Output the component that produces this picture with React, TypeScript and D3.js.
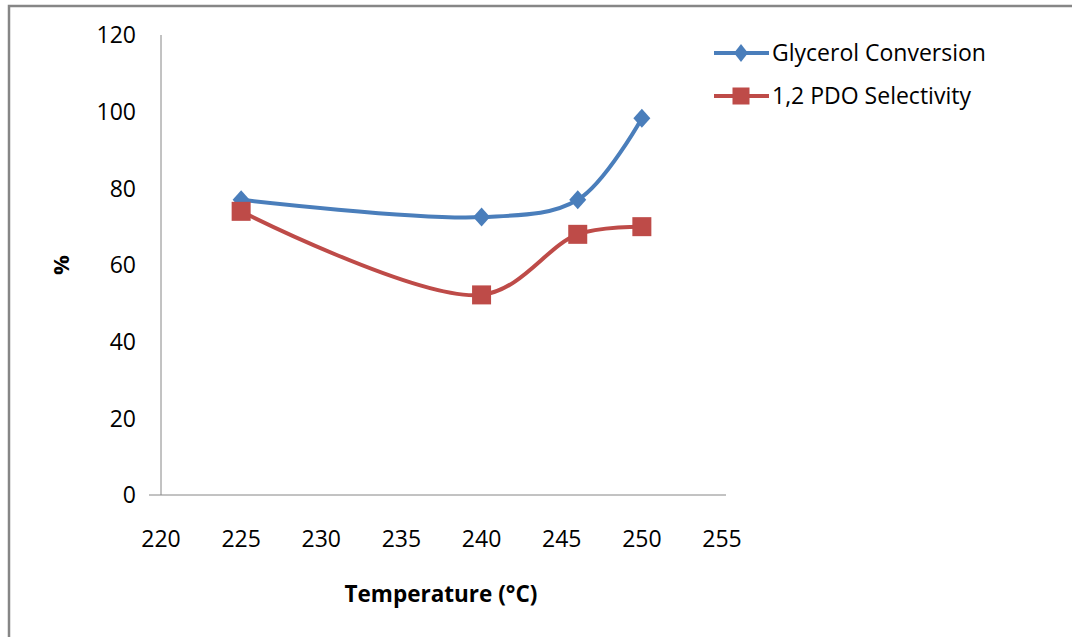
import React from "react";
import * as d3 from "d3";

const temperatures = [225, 240, 246, 250];
const glycerolConversion = [77, 72.5, 77, 98.3];
const pdoSelectivity = [74, 52.2, 68, 70];
const xTicks = [220, 225, 230, 235, 240, 245, 250, 255];
const yTicks = [0, 20, 40, 60, 80, 100, 120];
const seriesNames = ["Glycerol Conversion", "1,2 PDO Selectivity"];

const W = 1072, H = 637;
const BLUE = "#4A7EBB", RED = "#BE4B48";
const FONT = "'Open Sans', Lato, sans-serif";

export default function App() {
  const x = d3.scaleLinear().domain([220, 255]).range([161, 722]);
  const y = d3.scaleLinear().domain([0, 120]).range([495, 35]);
  const line = d3
    .line<[number, number]>()
    .x((d) => x(d[0]))
    .y((d) => y(d[1]))
    .curve(d3.curveCatmullRom.alpha(0.5));
  const g = temperatures.map((t, i) => [t, glycerolConversion[i]] as [number, number]);
  const r = temperatures.map((t, i) => [t, pdoSelectivity[i]] as [number, number]);
  const diamond = (cx: number, cy: number, sw = 8.5, sh = 9.5) =>
    `M${cx},${cy - sh}L${cx + sw},${cy}L${cx},${cy + sh}L${cx - sw},${cy}Z`;
  const sq = 9.5;
  return (
    <svg width={W} height={H} style={{ position: "absolute", left: 0, top: 0, background: "#fff" }}>
      <rect x={9} y={6} width={W + 20} height={H + 20} fill="#fff" stroke="#868686" strokeWidth={2.5} />
      {/* axes */}
      <line x1={x(220)} x2={x(220)} y1={y(120)} y2={y(0)} stroke="#868686" strokeWidth={1} />
      <line x1={x(220) - 12} x2={x(255) + 4} y1={y(0)} y2={y(0)} stroke="#868686" strokeWidth={1} />
      {yTicks.map((t) => (
        <text key={t} x={136} y={y(t)} dy="0.36em" textAnchor="end" fontFamily={FONT} fontSize={23} fill="#000">
          {t}
        </text>
      ))}
      {xTicks.map((t) => (
        <text key={t} x={x(t)} y={547} textAnchor="middle" fontFamily={FONT} fontSize={23} fill="#000">
          {t}
        </text>
      ))}
      <text x={441} y={602} textAnchor="middle" fontFamily={FONT} fontSize={22.5} fontWeight="bold" fill="#000">
        Temperature (°C)
      </text>
      <text transform="translate(69,265) rotate(-90)" textAnchor="middle" fontFamily={FONT} fontSize={22} fontWeight="bold" fill="#000">
        %
      </text>
      {/* series */}
      <path d={line(g) || ""} fill="none" stroke={BLUE} strokeWidth={4} />
      <path d={line(r) || ""} fill="none" stroke={RED} strokeWidth={4} />
      {g.map((d, i) => (
        <path key={"g" + i} d={diamond(x(d[0]), y(d[1]))} fill={BLUE} />
      ))}
      {r.map((d, i) => (
        <rect key={"r" + i} x={x(d[0]) - sq} y={y(d[1]) - sq} width={sq * 2} height={sq * 2} fill={RED} />
      ))}
      {/* legend */}
      <line x1={714} x2={769} y1={53} y2={53} stroke={BLUE} strokeWidth={4} />
      <path d={diamond(741, 53, 7, 9)} fill={BLUE} />
      <text x={772} y={53} dy="0.36em" fontFamily={FONT} fontSize={23} fill="#000">
        {seriesNames[0]}
      </text>
      <line x1={714} x2={769} y1={96} y2={96} stroke={RED} strokeWidth={4} />
      <rect x={741 - 8.5} y={96 - 8.5} width={17} height={17} fill={RED} />
      <text x={772} y={96} dy="0.36em" fontFamily={FONT} fontSize={23} fill="#000">
        {seriesNames[1]}
      </text>
    </svg>
  );
}
